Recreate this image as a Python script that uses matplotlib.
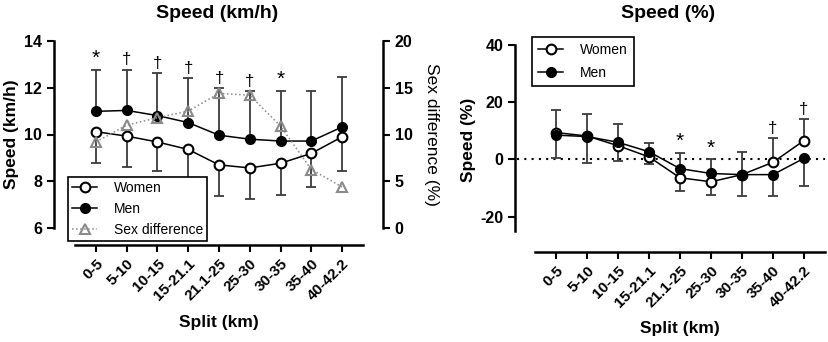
import matplotlib
matplotlib.use("Agg")
import matplotlib.pyplot as plt
import numpy as np

plt.rcParams["font.family"] = ["Liberation Sans", "DejaVu Sans"]
plt.rcParams["axes.unicode_minus"] = False

splits = ["0-5", "5-10", "10-15", "15-21.1", "21.1-25", "25-30", "30-35", "35-40", "40-42.2"]

# speed in km/h (men error bars up, women down)
women_kmh = [10.12, 9.93, 9.68, 9.36, 8.70, 8.57, 8.77, 9.19, 9.90]
women_kmh_sd = [1.35, 1.32, 1.26, 1.23, 1.34, 1.32, 1.36, 1.42, 1.48]
men_kmh = [10.99, 11.03, 10.81, 10.51, 9.97, 9.80, 9.72, 9.72, 10.32]
men_kmh_sd = [1.76, 1.75, 1.81, 1.90, 2.03, 2.06, 2.16, 2.16, 2.16]
sex_diff = [9.2, 11.0, 11.8, 12.5, 14.4, 14.2, 10.9, 6.25, 4.4]
sig_kmh = ["*", "†", "†", "†", "†", "†", "*", "", ""]

# speed in % of mean (women error bars up, men down)
women_pct = [9.4, 8.2, 4.8, 0.9, -6.4, -7.8, -5.3, -1.0, 6.6]
women_pct_sd = [7.9, 7.8, 7.5, 4.95, 8.7, 7.8, 8.0, 8.6, 7.4]
men_pct = [8.5, 8.0, 6.0, 2.7, -3.2, -4.9, -5.3, -5.3, 0.4]
men_pct_sd = [8.15, 9.2, 6.5, 4.45, 7.9, 7.4, 7.4, 7.6, 9.6]
sig_pct = ["", "", "", "", "*", "*", "", "†", "†"]

W, H = 829, 342
ECOL = "#3c3c3c"
GREY = "#8a8a8a"
TICK_FS = 11.5
LAB_FS = 12.5
TITLE_FS = 14


def style_axes(ax, left_out, bottom_out):
    for s in ["top", "right"]:
        ax.spines[s].set_visible(False)
    ax.spines["left"].set_position(("outward", left_out))
    ax.spines["bottom"].set_position(("outward", bottom_out))
    for s in ["left", "bottom"]:
        ax.spines[s].set_linewidth(1.8)
    ax.tick_params(width=1.5, length=5, labelsize=TICK_FS)
    for lab in ax.get_yticklabels():
        lab.set_fontweight("bold")
    x = np.arange(len(splits))
    ax.set_xticks(x)
    ax.set_xticklabels(splits, rotation=45, ha="right", rotation_mode="anchor",
                       fontweight="bold", fontsize=11)
    ax.set_xlim(-0.68, 8.68)


def add_marks(ax, x, top, marks):
    for i, s in enumerate(marks):
        if s:
            ax.annotate(s, (x[i], top[i]), xytext=(0, 1.5), textcoords="offset points",
                        ha="center", va="bottom", fontsize=15 if s == "*" else 12)


def main():
    fig = plt.figure(figsize=(W / 100, H / 100), dpi=100)
    x = np.arange(len(splits))

    # ---------- left panel: km/h ----------
    ax = fig.add_axes([75 / W, 1 - 228 / H, 288 / W, 187 / H])
    ax.set_ylim(6, 14)
    ax.set_yticks([6, 8, 10, 12, 14])
    style_axes(ax, 15, 12)

    ax.errorbar(x, men_kmh, yerr=[np.zeros(len(x)), men_kmh_sd], fmt="none",
                ecolor=ECOL, elinewidth=1.3, capsize=3.5, capthick=1.3, zorder=1)
    ax.errorbar(x, women_kmh, yerr=[women_kmh_sd, np.zeros(len(x))], fmt="none",
                ecolor=ECOL, elinewidth=1.3, capsize=3.5, capthick=1.3, zorder=1)
    h_w, = ax.plot(x, women_kmh, "-o", color="black", lw=1.1, ms=7, mfc="white",
                   mec="black", mew=1.5, label="Women", zorder=3)
    h_m, = ax.plot(x, men_kmh, "-o", color="black", lw=1.1, ms=7, mfc="black",
                   label="Men", zorder=3)
    add_marks(ax, x, np.array(men_kmh) + np.array(men_kmh_sd), sig_kmh)

    ax2 = ax.twinx()
    ax2.set_ylim(0, 20)
    ax2.set_yticks([0, 5, 10, 15, 20])
    for s in ["top", "left", "bottom"]:
        ax2.spines[s].set_visible(False)
    ax2.spines["right"].set_position(("outward", 14.4))
    ax2.spines["right"].set_linewidth(1.8)
    ax2.tick_params(width=1.5, length=5, labelsize=TICK_FS)
    for lab in ax2.get_yticklabels():
        lab.set_fontweight("bold")
    h_d, = ax2.plot(x, sex_diff, ls=":", marker="^", color=GREY, lw=1.1, ms=7,
                    mfc="none", mec=GREY, mew=1.5, label="Sex difference")

    ax2.legend(handles=[h_w, h_m, h_d], loc="upper left",
               bbox_to_anchor=(68 / W, 1 - 177 / H), bbox_transform=fig.transFigure,
               borderaxespad=0, fancybox=False, edgecolor="black", framealpha=1,
               fontsize=10, handlelength=1.8, handletextpad=1.2, labelspacing=0.5,
               borderpad=0.3).get_frame().set_linewidth(1.2)

    ax.set_ylabel("Speed (km/h)", fontsize=LAB_FS, fontweight="bold", va="center")
    ax.yaxis.set_label_coords(-0.222, 0.5)
    ax2.set_ylabel("Sex difference (%)", fontsize=LAB_FS, rotation=270, va="center")
    ax2.yaxis.set_label_coords((431 - 75) / 288, 0.5)
    ax.set_xlabel("Split (km)", fontsize=LAB_FS, fontweight="bold", va="center")
    ax.xaxis.set_label_coords(0.5, (228 - 323) / 187)
    fig.text(217 / W, 1 - 14 / H, "Speed (km/h)", fontsize=TITLE_FS, fontweight="bold",
             ha="center", va="center")

    # ---------- right panel: % ----------
    bx = fig.add_axes([535 / W, 1 - 231 / H, 290 / W, 186 / H])
    bx.set_ylim(-25, 40)
    bx.set_yticks([-20, 0, 20, 40])
    style_axes(bx, 14.4, 15)

    bx.axhline(0, xmin=-0.062, xmax=1, color="black", lw=1.5, ls=(0, (1, 2.5)),
               clip_on=False, zorder=0)
    bx.errorbar(x, women_pct, yerr=[np.zeros(len(x)), women_pct_sd], fmt="none",
                ecolor=ECOL, elinewidth=1.3, capsize=3.5, capthick=1.3, zorder=1)
    bx.errorbar(x, men_pct, yerr=[men_pct_sd, np.zeros(len(x))], fmt="none",
                ecolor=ECOL, elinewidth=1.3, capsize=3.5, capthick=1.3, zorder=1)
    g_w, = bx.plot(x, women_pct, "-o", color="black", lw=1.1, ms=7, mfc="white",
                   mec="black", mew=1.5, label="Women", zorder=3)
    g_m, = bx.plot(x, men_pct, "-o", color="black", lw=1.1, ms=7, mfc="black",
                   label="Men", zorder=3)
    add_marks(bx, x, np.array(women_pct) + np.array(women_pct_sd), sig_pct)

    bx.legend(handles=[g_w, g_m], loc="upper left",
              bbox_to_anchor=(532 / W, 1 - 37 / H), bbox_transform=fig.transFigure,
              borderaxespad=0, fancybox=False, edgecolor="black", framealpha=1,
              fontsize=10, handlelength=1.8, handletextpad=1.2, labelspacing=0.6,
              borderpad=0.45).get_frame().set_linewidth(1.2)

    bx.set_ylabel("Speed (%)", fontsize=LAB_FS, fontweight="bold", va="center")
    bx.yaxis.set_label_coords((468 - 535) / 290, 0.49)
    bx.set_xlabel("Split (km)", fontsize=LAB_FS, fontweight="bold", va="center")
    bx.xaxis.set_label_coords(0.5, (231 - 328) / 186)
    fig.text(668 / W, 1 - 14 / H, "Speed (%)", fontsize=TITLE_FS, fontweight="bold",
             ha="center", va="center")

    fig.savefig("out.png", dpi=100)


if __name__ == "__main__":
    main()
